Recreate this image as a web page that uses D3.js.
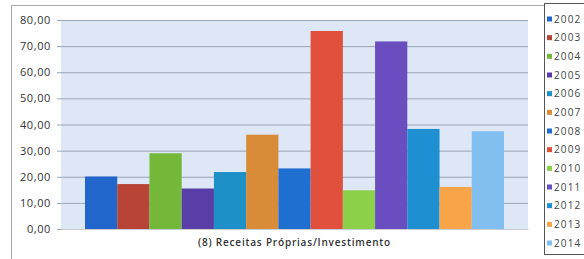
<!DOCTYPE html>
<html>
<head>
<meta charset="utf-8">
<script src="https://cdn.jsdelivr.net/npm/d3@7"></script>
<style>
  body { margin: 0; background: #fff; }
  svg { display: block; font-family: "Open Sans", sans-serif; }
</style>
</head>
<body>
<svg id="chart" width="584" height="259"></svg>
<script>
var category = ["(8) Receitas Próprias/Investimento"];
var years = ["2002", "2003", "2004", "2005", "2006", "2007", "2008", "2009", "2010", "2011", "2012", "2013", "2014"];
var values = [20.1, 17.2, 29.0, 15.5, 21.8, 36.1, 23.2, 75.8, 14.8, 71.8, 38.3, 16.1, 37.4];
var colors = ["#2266cc", "#b84438", "#74b83a", "#5a3ea8", "#1e90c8", "#d98c38", "#1f6fd0",
              "#e0503c", "#8cd04a", "#6a4ec0", "#1e8fd0", "#f8a448", "#80bff0"];
var yTicks = [0, 10, 20, 30, 40, 50, 60, 70, 80];

var svg = d3.select("#chart");
var plot = { left: 61, right: 528, top: 20, bottom: 229 };

// outer chart frame
svg.append("rect")
    .attr("x", 11.5).attr("y", 5.5)
    .attr("width", 600).attr("height", 300)
    .attr("fill", "#fff").attr("stroke", "#a8a8a8");

// plot background
svg.append("rect")
    .attr("x", plot.left).attr("y", plot.top)
    .attr("width", plot.right - plot.left).attr("height", plot.bottom - plot.top)
    .attr("fill", "#dde7f6");

var y = d3.scaleLinear().domain([0, 80]).range([plot.bottom, plot.top]);
var x0 = d3.scaleBand().domain(category).range([plot.left, plot.right])
    .paddingInner(0).paddingOuter(0.0573);
var x1 = d3.scaleBand().domain(years).range([0, x0.bandwidth()]);
var color = d3.scaleOrdinal().domain(years).range(colors);

// y axis with gridlines
var yAxis = d3.axisLeft(y)
    .tickValues(yTicks)
    .tickSize(-(plot.right - plot.left) - 4)
    .tickFormat(function (d) { return d3.format(".2f")(d).replace(".", ","); });

svg.append("g")
    .attr("transform", "translate(" + plot.left + ",0)")
    .call(yAxis)
    .call(function (g) {
        g.select(".domain").remove();
        g.selectAll(".tick line")
            .attr("x1", -4).attr("x2", plot.right - plot.left)
            .attr("stroke", "#9aa5b6");
        g.selectAll(".tick text")
            .attr("x", -10)
            .attr("fill", "#333")
            .style("font-size", "11px")
            .style("letter-spacing", "0.6px")
            .style("font-family", "'Open Sans', sans-serif");
    });

// bars
svg.append("g").selectAll("g")
    .data(category)
  .enter().append("g")
    .attr("transform", function (d) { return "translate(" + x0(d) + ",0)"; })
  .selectAll("rect")
    .data(years.map(function (yr, i) { return { year: yr, value: values[i] }; }))
  .enter().append("rect")
    .attr("x", function (d) { return x1(d.year); })
    .attr("y", function (d) { return y(d.value); })
    .attr("width", x1.bandwidth())
    .attr("height", function (d) { return y(0) - y(d.value); })
    .attr("fill", function (d) { return color(d.year); });

// category axis
var xAxis = d3.axisBottom(x0).tickSize(0).tickPadding(10);
svg.append("g")
    .attr("transform", "translate(0," + plot.bottom + ")")
    .call(xAxis)
    .call(function (g) {
        g.select(".domain").attr("stroke", "#c8ccd4");
        g.selectAll(".tick text")
            .attr("fill", "#333")
            .style("font-size", "10px")
            .style("font-weight", "600")
            .style("letter-spacing", "0.8px")
            .style("font-family", "'Open Sans', sans-serif");
    });

// legend
var legend = svg.append("g");
legend.append("rect")
    .attr("x", 544.5).attr("y", 3.5)
    .attr("width", 45).attr("height", 251)
    .attr("fill", "#fff").attr("stroke", "#555");

var rowY = d3.scalePoint().domain(years).range([19, 243]);
var item = legend.selectAll(".item")
    .data(years)
  .enter().append("g")
    .attr("class", "item")
    .attr("transform", function (d) { return "translate(547," + rowY(d) + ")"; });

item.append("rect")
    .attr("x", 0).attr("y", -2.5)
    .attr("width", 5).attr("height", 5)
    .attr("fill", function (d) { return color(d); });

item.append("text")
    .attr("x", 7).attr("dy", "0.35em")
    .attr("fill", "#444")
    .style("font-size", "10px")
    .style("letter-spacing", "1.1px")
    .text(function (d) { return d; });
</script>
</body>
</html>
